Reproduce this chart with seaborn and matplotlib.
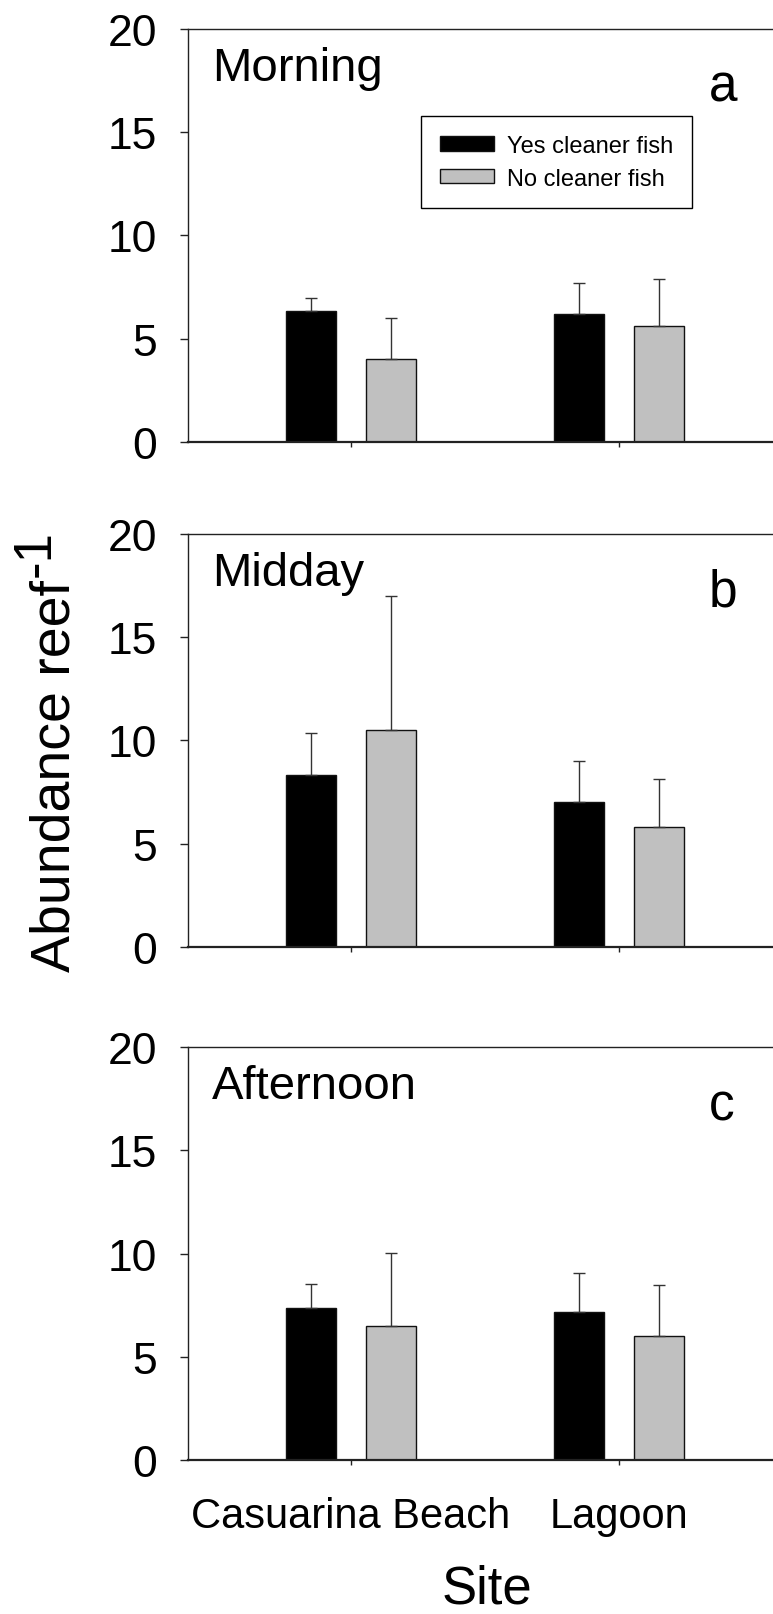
import numpy as np
import pandas as pd
import matplotlib
matplotlib.use('Agg')
import matplotlib.pyplot as plt
import seaborn as sns

sites = ['Casuarina Beach', 'Lagoon']
treatments = ['Yes cleaner fish', 'No cleaner fish']
periods = ['Morning', 'Midday', 'Afternoon']
panel_letters = ['a', 'b', 'c']

# mean abundance per reef, one row per period: [Casuarina Beach, Lagoon]
yes_mean = [[6.33, 6.17], [8.34, 7.00], [7.35, 7.19]]
no_mean = [[3.99, 5.59], [10.48, 5.78], [6.51, 6.01]]
# upper error bars (SE)
yes_se = [[0.65, 1.50], [2.00, 2.01], [1.20, 1.89]]
no_se = [[1.99, 2.29], [6.50, 2.36], [3.51, 2.47]]

y_ticks = [0, 5, 10, 15, 20]

sns.set_theme(style='white')
plt.rcParams['font.family'] = ['Liberation Sans', 'DejaVu Sans']
plt.rcParams['text.color'] = 'black'
plt.rcParams['xtick.labelcolor'] = 'black'
plt.rcParams['ytick.labelcolor'] = 'black'

W, H = 773, 1615
fig = plt.figure(figsize=(W / 100, H / 100), dpi=100)

left = 188 / W
panel_h = 412.7
panel_tops = [30, 535, 1048.3]
line_col = '#222222'

for i, period in enumerate(periods):
    df = pd.DataFrame({
        'site': sites * 2,
        'treatment': [treatments[0]] * 2 + [treatments[1]] * 2,
        'mean': yes_mean[i] + no_mean[i],
    })
    ax = fig.add_axes([left, 1 - (panel_tops[i] + panel_h) / H, 1 - left, panel_h / H])
    sns.barplot(data=df, x='site', y='mean', hue='treatment', order=sites,
                hue_order=treatments, palette=['black', '#c0c0c0'],
                width=0.6, gap=0.38, edgecolor='#111111', linewidth=1,
                errorbar=None, legend=(i == 0), ax=ax)

    # one-sided error bars on top of each bar
    for cont, se in zip(ax.containers, [yes_se[i], no_se[i]]):
        xs = [b.get_x() + b.get_width() / 2 for b in cont]
        hs = [b.get_height() for b in cont]
        ax.errorbar(xs, hs, yerr=[np.zeros(len(se)), se], fmt='none',
                    ecolor='#333333', elinewidth=1, capsize=4, capthick=1)

    ax.set_xlim(-0.608, 1.575)
    ax.set_ylim(0, 20)
    ax.set_yticks(y_ticks)
    ax.set_xlabel('')
    ax.set_ylabel('')
    if i < 2:
        ax.set_xticklabels([])

    ax.spines['right'].set_visible(False)
    for s in ['left', 'top', 'bottom']:
        ax.spines[s].set_color(line_col)
        ax.spines[s].set_linewidth(1.0)
    ax.spines['bottom'].set_linewidth(1.6)

    ax.tick_params(axis='y', direction='out', length=6, width=1, color=line_col,
                   labelsize=32, pad=16, left=True, labelcolor='black')
    ax.tick_params(axis='x', direction='out', length=3.6, width=1, color=line_col,
                   labelsize=30, pad=22, bottom=True, labelcolor='black')

    ax.text(0.041, 0.876, period, transform=ax.transAxes, fontsize=34,
            ha='left', va='baseline', color='black')
    ax.text(0.89, 0.826, panel_letters[i], transform=ax.transAxes, fontsize=37,
            ha='left', va='baseline', color='black')

    if i == 0:
        sns.move_legend(ax, 'upper left', bbox_to_anchor=(421 / W, 1 - 117 / H),
                        bbox_transform=fig.transFigure, title=None, frameon=True,
                        fancybox=False, fontsize=17, handlelength=2.3,
                        handleheight=0.55, handletextpad=0.55, borderpad=0.8,
                        labelspacing=0.45, borderaxespad=0, framealpha=1,
                        edgecolor='black')
        leg = ax.get_legend()
        leg.get_frame().set_linewidth(1)
        for t in leg.get_texts():
            t.set_color('black')

# axis labels
fig.text(70 / W, 1 - 972 / H, 'Abundance reef', rotation=90, rotation_mode='anchor',
         ha='left', va='baseline', fontsize=40, color='black')
fig.text(50 / W, 1 - 577 / H, '-1', rotation=90, rotation_mode='anchor',
         ha='left', va='baseline', fontsize=38, color='black')
fig.text(487 / W, 1 - 1604 / H, 'Site', ha='center', va='baseline', fontsize=38,
         color='black')

fig.savefig('out.png', dpi=100)
